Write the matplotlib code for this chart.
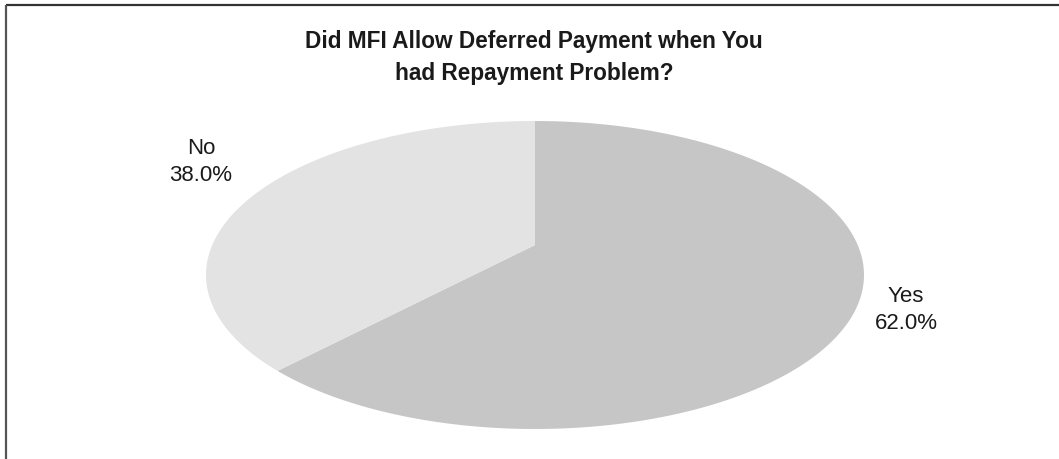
import numpy as np
import matplotlib
matplotlib.use("Agg")
import matplotlib.pyplot as plt
from matplotlib.patches import Polygon

plt.rcParams['font.family'] = ['Liberation Sans', 'DejaVu Sans']

# survey answers
labels = ['Yes', 'No']
shares = [62.0, 38.0]
colors = ['#c6c6c6', '#e3e3e3']

TITLE = 'Did MFI Allow Deferred Payment when You\nhad Repayment Problem?'

# tilted disc -> screen (pixel) mapping, a simple perspective homography
CX, CY = 535.0, 276.0      # centre of the drawn ellipse
B_ELL = 154.0              # half height of the ellipse
C0 = 30.0                  # how far the disc centre sits above ellipse centre
K = C0 / B_ELL             # perspective strength
A0 = 329.0 * np.sqrt(1 - K ** 2)


def tilt(u, v):
    d = 1 + K * v
    return CX + A0 * u / d, CY - (B_ELL * v + C0) / d


W, H = 1059, 460
fig = plt.figure(figsize=(W / 100, H / 100), dpi=100)

# flat pie only used for its wedge angles
tmp = fig.add_axes([0, 0, 0.01, 0.01])
wedges, _ = tmp.pie(shares, startangle=90, counterclock=False)
angles = [(w.theta1, w.theta2) for w in wedges]
tmp.remove()

ax = fig.add_axes([0, 0, 1, 1])
ax.set_xlim(0, W)
ax.set_ylim(H, 0)
ax.axis('off')

for (t1, t2), c in zip(angles, colors):
    th = np.radians(np.linspace(t1, t2, 200))
    u = np.concatenate([[0], np.cos(th)])
    v = np.concatenate([[0], np.sin(th)])
    x, y = tilt(u, v)
    ax.add_patch(Polygon(np.column_stack([x, y]), closed=True,
                         facecolor=c, edgecolor='none'))

# data labels
label_pos = [(906, 310), (201, 162)]
for (lx, ly), lab, s in zip(label_pos, labels, shares):
    ax.text(lx, ly, f'{lab}\n{s:.1f}%', ha='center', va='center',
            fontsize=16, color='#1a1a1a', linespacing=1.4)

ax.text(534, 57.5, TITLE, ha='center', va='center', fontsize=16.3,
        fontweight='bold', color='#1a1a1a', linespacing=1.5)

# chart frame
ax.plot([6, W], [6, 6], color='#333333', lw=1.6, solid_capstyle='butt')
ax.plot([6, 6], [6, H], color='#555555', lw=1.6, solid_capstyle='butt')

fig.savefig('out.png', dpi=100)
